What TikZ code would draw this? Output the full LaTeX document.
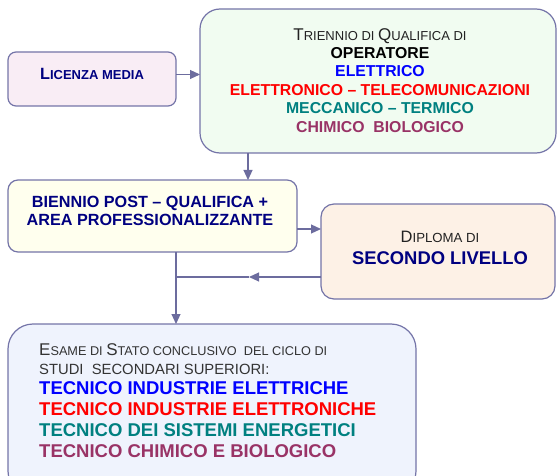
\documentclass[tikz,border=0pt]{standalone}
\usepackage{fontspec}
\setmainfont{Liberation Sans}
\usetikzlibrary{arrows.meta}
\definecolor{edgec}{HTML}{7474A8}
\definecolor{connc}{HTML}{6C6C9E}
\definecolor{navyc}{HTML}{000080}
\definecolor{darkt}{HTML}{222222}
\definecolor{greyt}{HTML}{333333}
\definecolor{bluet}{HTML}{0000FF}
\definecolor{redt}{HTML}{FF0000}
\definecolor{tealt}{HTML}{008080}
\definecolor{plumt}{HTML}{993366}
\definecolor{licfill}{HTML}{F9EDF5}
\definecolor{trifill}{HTML}{F1FCF1}
\definecolor{bienfill}{HTML}{FFFFEE}
\definecolor{dipfill}{HTML}{FDF1E6}
\definecolor{esafill}{HTML}{EFF3FD}
\newcommand\myfs[1]{\fontsize{#1}{#1}\selectfont}
\begin{document}
\begin{tikzpicture}[x=1pt,y=-1pt,
  box/.style={draw=edgec, line width=1.2pt, inner sep=0pt, outer sep=0pt, anchor=north west},
  conn/.style={draw=connc, line width=1.1pt, -{Triangle[length=10pt,width=9pt]}},
  plain/.style={draw=connc, line width=1.1pt},
  txt/.style={inner sep=0pt, anchor=base}]
\useasboundingbox (0,0) rectangle (557,476);
\clip (0,0) rectangle (557,476);
% boxes
\node[box, rounded corners=8pt, fill=licfill, minimum width=168pt, minimum height=54pt] (lic) at (8,52) {};
\node[box, rounded corners=20pt, fill=trifill, minimum width=356pt, minimum height=144pt] (tri) at (200,9) {};
\node[box, rounded corners=10pt, fill=bienfill, minimum width=289pt, minimum height=72pt] (bien) at (8,180) {};
\node[box, rounded corners=13pt, fill=dipfill, minimum width=234pt, minimum height=95pt] (dip) at (321,204) {};
\node[box, rounded corners=25pt, fill=esafill, minimum width=408pt, minimum height=172pt] (esa) at (8,324) {};
% texts
\node[txt, font=\bfseries, text=navyc] (lict) at (92,79.3) {{\myfs{16.3}L}{\myfs{13}ICENZA MEDIA}};
\node[txt, text=darkt] (tri1) at (380,40.7) {{\myfs{17}T}{\myfs{13}RIENNIO DI }{\myfs{17}Q}{\myfs{13}UALIFICA DI}};
\node[txt, font=\bfseries\myfs{15.8}, text=black] (tri2) at (380,58.5) {OPERATORE};
\node[txt, font=\bfseries\myfs{15.8}, text=bluet] (tri3) at (380,76.5) {ELETTRICO};
\node[txt, font=\bfseries\myfs{15.8}, text=redt] (tri4) at (380,95.2) {ELETTRONICO – TELECOMUNICAZIONI};
\node[txt, font=\bfseries\myfs{15.8}, text=tealt] (tri5) at (380,113.5) {MECCANICO – TERMICO};
\node[txt, font=\bfseries\myfs{15.8}, text=plumt] (tri6) at (380,132.8) {CHIMICO\ \ BIOLOGICO};
\node[txt, font=\bfseries\myfs{16.2}, text=navyc] (bien1) at (150,207.7) {BIENNIO POST – QUALIFICA +};
\node[txt, font=\bfseries\myfs{16.2}, text=navyc] (bien2) at (150,225) {AREA PROFESSIONALIZZANTE};
\node[txt, text=darkt] (dip1) at (440,242.3) {{\myfs{16.5}D}{\myfs{13.2}IPLOMA DI}};
\node[txt, font=\bfseries\myfs{18.4}, text=navyc] (dip2) at (440,264) {SECONDO LIVELLO};
\node[txt, anchor=base west, text=greyt] (esa1) at (39,355.7) {{\myfs{17}E}{\myfs{12.7}SAME DI }{\myfs{17}S}{\myfs{12.7}TATO CONCLUSIVO\ \ DEL CICLO DI}};
\node[txt, anchor=base west, text=greyt] (esa2) at (39,374.3) {\myfs{14.8}STUDI\ \ SECONDARI SUPERIORI:};
\node[txt, anchor=base west, font=\bfseries\myfs{18.5}, text=bluet] (esa3) at (39,394) {TECNICO INDUSTRIE ELETTRICHE};
\node[txt, anchor=base west, font=\bfseries\myfs{18.5}, text=redt] (esa4) at (39,415.3) {TECNICO INDUSTRIE ELETTRONICHE};
\node[txt, anchor=base west, font=\bfseries\myfs{18.5}, text=tealt] (esa5) at (39,436.5) {TECNICO DEI SISTEMI ENERGETICI};
\node[txt, anchor=base west, font=\bfseries\myfs{18.5}, text=plumt] (esa6) at (39,457.5) {TECNICO CHIMICO E BIOLOGICO};
% connector helper coordinates
\coordinate (ya) at (0,74.5);
\coordinate (xb) at (248,0);
\coordinate (yc) at (0,229);
\coordinate (yd) at (0,277);
\coordinate (xd) at (176,0);
\coordinate (md) at (249,277);
% connectors
\draw[conn] (lic.east |- ya) -- (tri.west |- ya);
\draw[conn] (tri.south -| xb) -- (bien.north -| xb);
\draw[conn] (bien.east |- yc) -- (dip.west |- yc);
\draw[conn] (dip.west |- yd) -- (md);
\draw[plain] (md) -- (xd |- yd);
\draw[conn] (bien.south -| xd) -- (esa.north -| xd);
\end{tikzpicture}
\end{document}
